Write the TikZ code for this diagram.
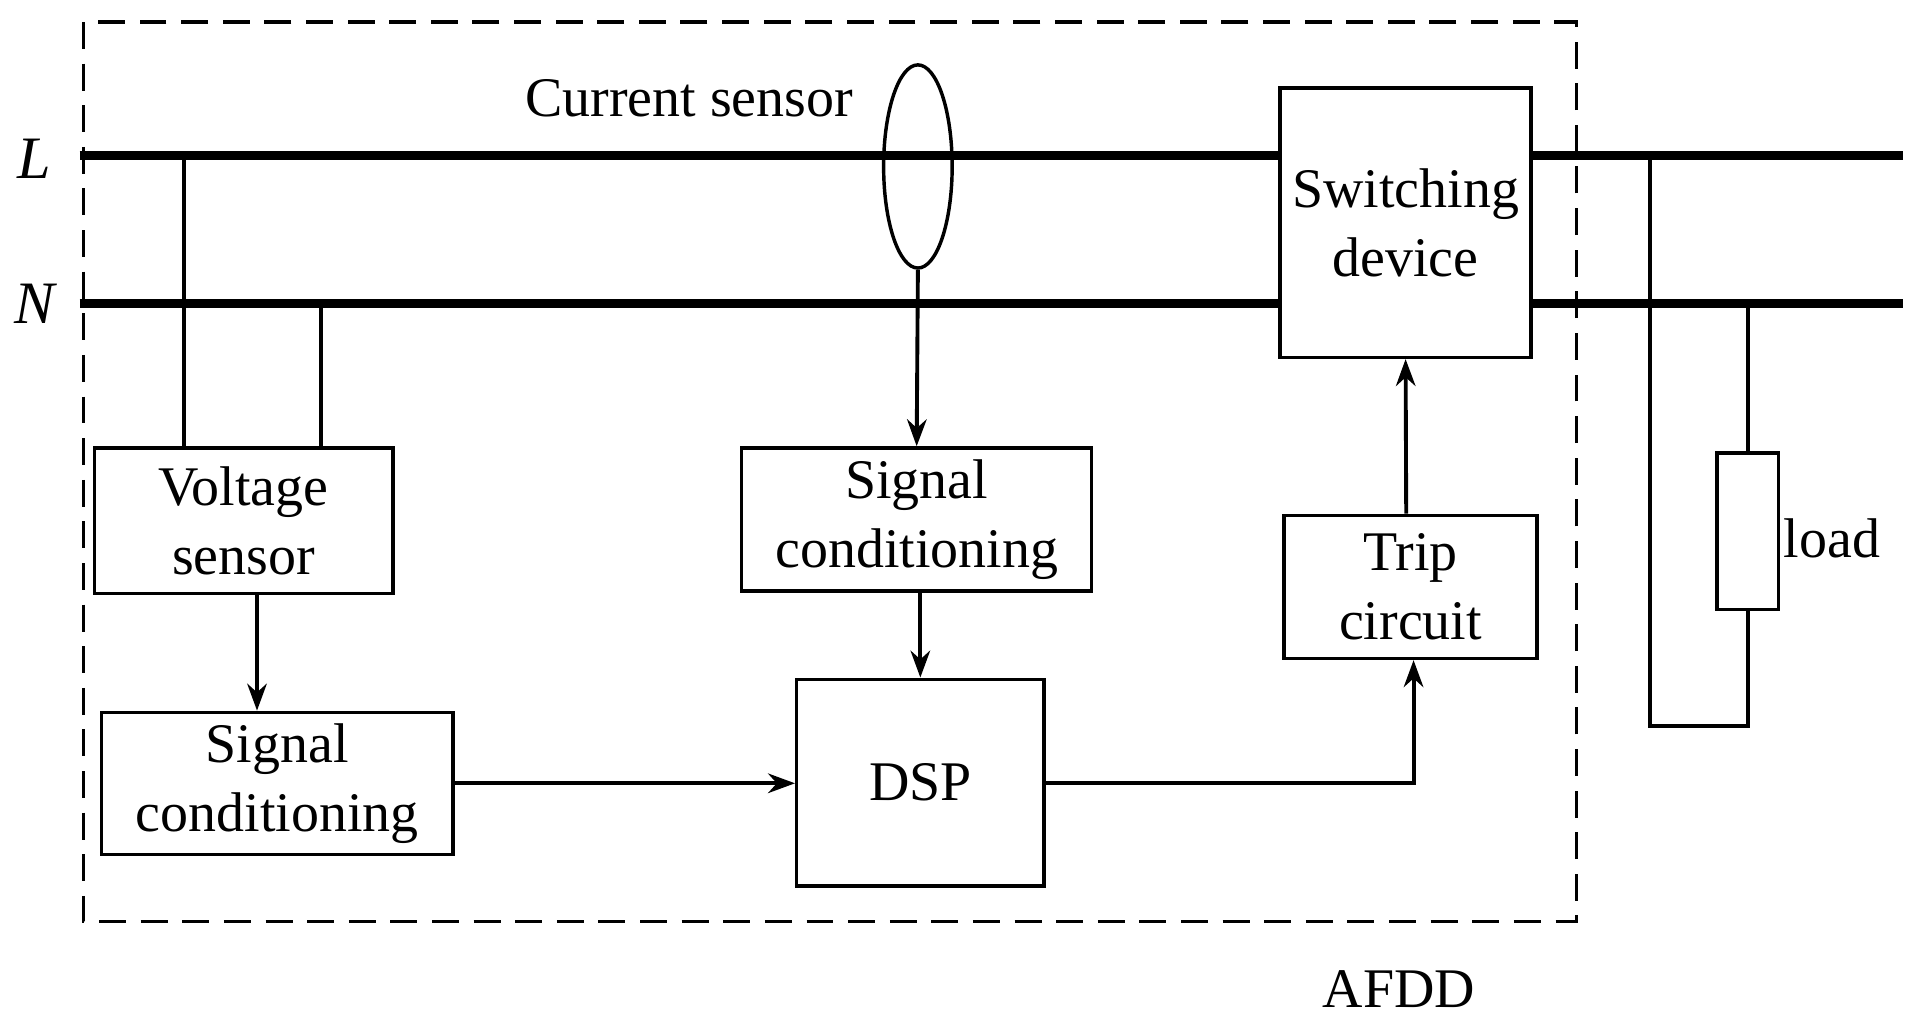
\documentclass[tikz,border=0pt]{standalone}
\usepackage{fontspec}
\setmainfont{Liberation Serif}
\usetikzlibrary{arrows.meta,shapes.geometric}
\begin{document}
\begin{tikzpicture}[x=1mm,y=-1mm,
    blk/.style={draw,thick,align=center,inner sep=0pt,font=\fontsize{13}{16}\selectfont},
    wire/.style={line width=0.9pt},
    bus/.style={line width=2pt},
    arr/.style={-{Stealth[length=2.2mm,width=1.6mm]},line width=0.9pt}]
    \useasboundingbox (0,0) rectangle (156.8,83.6);

    % frame of the AFDD
    \draw[dash pattern=on 2.2mm off 1.2mm,thick] (6.8,1.8) rectangle (128.8,75.3);
    \node[font=\fontsize{13}{16}\selectfont] (afdd) at (114.3,80.8) {AFDD};

    % lines
    \coordinate (lin) at (6.5,12.7);  \coordinate (lout) at (155.5,12.7);
    \coordinate (nin) at (6.5,24.8);  \coordinate (nout) at (155.5,24.8);
    \draw[bus] (lin) -- (lout);
    \draw[bus] (nin) -- (nout);
    \node[font=\fontsize{14}{16}\selectfont\itshape] (lbl) at (2.8,13) {L};
    \node[font=\fontsize{14}{16}\selectfont\itshape] (nbl) at (2.8,24.8) {N};

    % blocks
    \node[blk,minimum width=20.5mm,minimum height=22mm,fill=white] (sw) at (114.85,18.2) {Switching\\device};
    \node[blk,minimum width=24.4mm,minimum height=11.9mm] (vs) at (19.9,42.55) {Voltage\\sensor};
    \node[blk,minimum width=28.7mm,minimum height=11.6mm] (sc1) at (22.65,64) {Signal\\conditioning};
    \node[blk,minimum width=28.6mm,minimum height=11.7mm] (sc2) at (74.9,42.45) {Signal\\conditioning};
    \node[blk,minimum width=20.2mm,minimum height=16.9mm] (dsp) at (75.2,63.95) {DSP};
    \node[blk,minimum width=20.7mm,minimum height=11.7mm] (trip) at (115.25,47.95) {Trip\\circuit};
    \node[ellipse,draw,thick,minimum width=5.6mm,minimum height=16.6mm,inner sep=0pt] (ct) at (75,13.6) {};
    \node[font=\fontsize{13}{16}\selectfont] (ctl) at (56.3,8) {Current sensor};

    % voltage taps
    \draw[wire] (vs.north -| 15,0) -- (15,12.7);
    \draw[wire] (vs.north -| 26.2,0) -- (26.2,24.8);

    % signal path
    \draw[arr] (vs.south -| 21,0) -- (sc1.north -| 21,0);
    \draw[arr] (ct.south) -- (sc2.north);
    \draw[arr] (sc2.south -| 75.2,0) -- (dsp.north);
    \draw[arr] (sc1.east) -- (sc1.east -| dsp.west);
    \draw[arr] (dsp.east) -| (trip.south -| 115.5,0);
    \draw[arr] (trip.north -| 114.9,0) -- (sw.south);

    % load
    \node[draw,thick,minimum width=5mm,minimum height=12.8mm,inner sep=0pt] (ld) at (142.8,43.4) {};
    \node[font=\fontsize{13}{16}\selectfont] (ldl) at (149.7,44) {load};
    \draw[wire] (134.8,12.7) -- (134.8,59.3) -| (ld.south);
    \draw[wire] (ld.north) -- (142.8,24.8);
\end{tikzpicture}
\end{document}
